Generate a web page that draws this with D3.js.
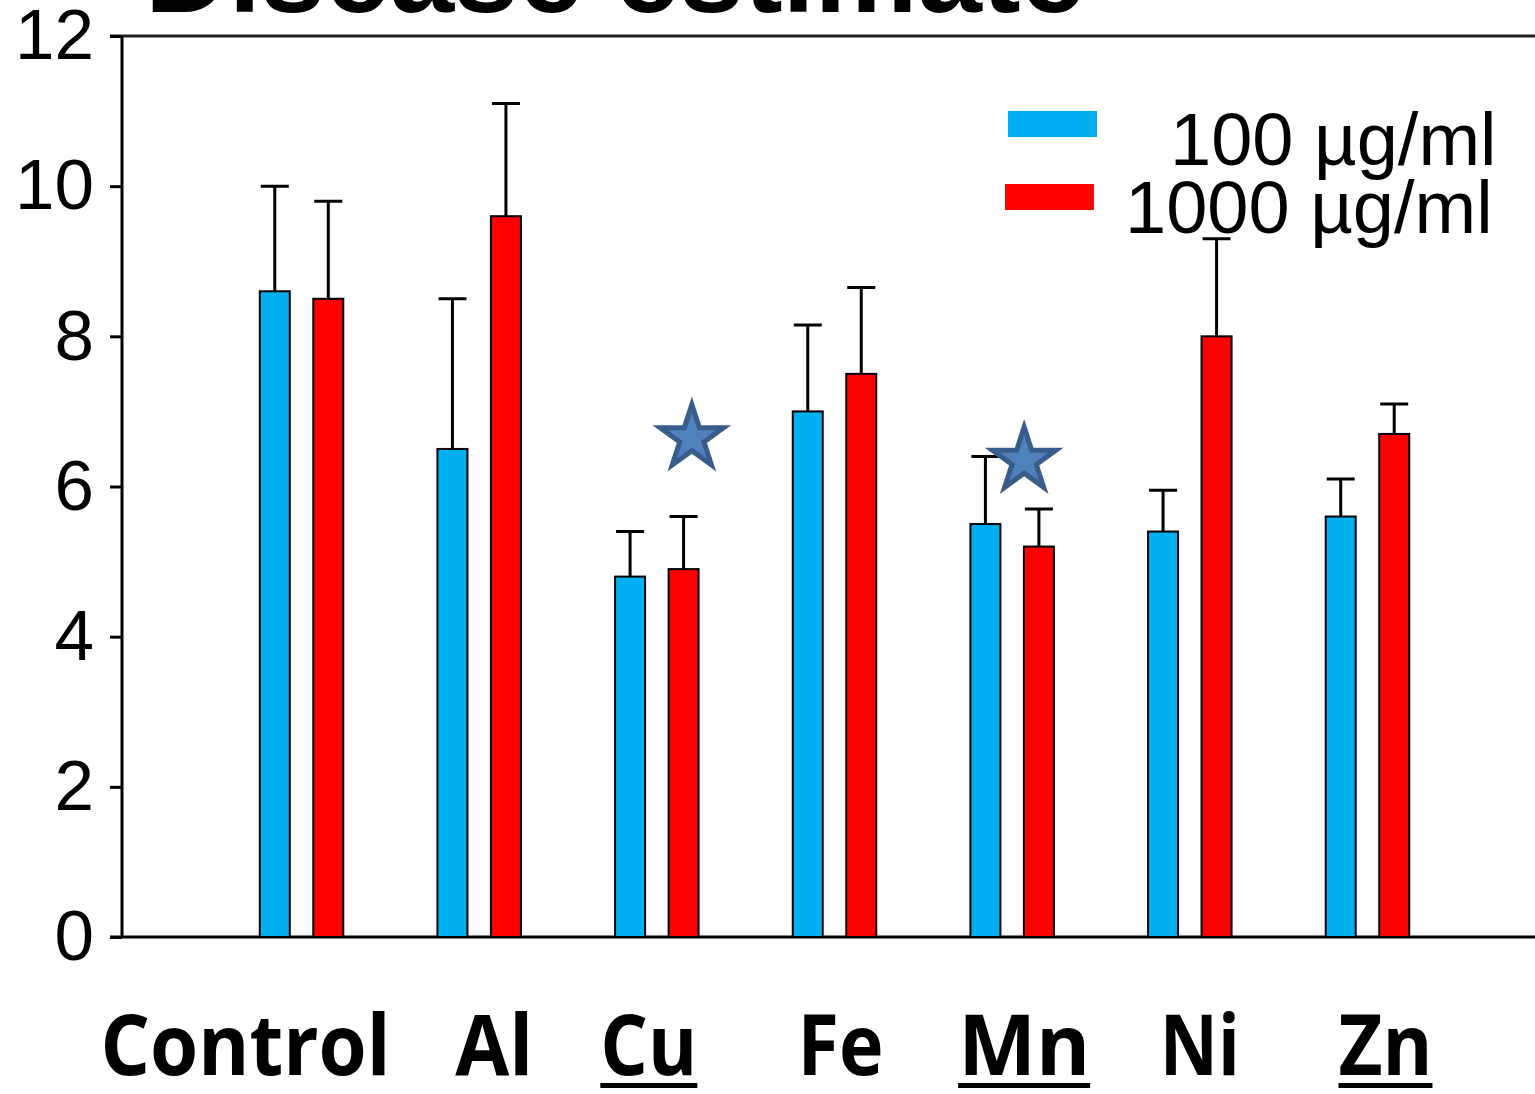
<!DOCTYPE html>
<html>
<head>
<meta charset="utf-8">
<script src="https://cdn.jsdelivr.net/npm/d3@7"></script>
<style>
  body { margin: 0; background: #fff; }
  svg { display: block; }
</style>
</head>
<body>
<div id="chart"></div>
<script>
const categories = ['Control', 'Al', 'Cu', 'Fe', 'Mn', 'Ni', 'Zn'];
const series = ['100 µg/ml', '1000 µg/ml'];
const values100 = [8.6, 6.5, 4.8, 7.0, 5.5, 5.4, 5.6];
const errors100 = [10.0, 8.5, 5.4, 8.15, 6.4, 5.95, 6.1];
const values1000 = [8.5, 9.6, 4.9, 7.5, 5.2, 8.0, 6.7];
const errors1000 = [9.8, 11.1, 5.6, 8.65, 5.7, 9.3, 7.1];
const yTicks = [0, 2, 4, 6, 8, 10, 12];
const underlined = ['Cu', 'Mn', 'Zn'];
const starCats = ['Cu', 'Mn'];
const starValues = [6.7, 6.4];

// layout tweaks (not data)
const labelDx = [-56, 15, -8, 6, 12, 10, 18];
const labelWidth = [290, 78, 97, 86, 132, 80, 94];
const starDx = [35, 12];
const colors = ['#00b0f0', '#ff0000'];

const width = 1535, height = 1094;
const svg = d3.select('#chart').append('svg')
    .attr('width', width)
    .attr('height', height);

const y = d3.scaleLinear().domain([0, 12]).range([937, 36]);
const x0 = d3.scaleBand().domain(categories).range([212.7, 1456.3]);
const x1 = d3.scalePoint().domain(series).range([-26.75, 26.75]);
const barW = 30;
const cx = c => x0(c) + x0.bandwidth() / 2;

// title, mostly cut off at the top
svg.append('text')
    .attr('x', 145)
    .attr('y', 12)
    .attr('font-family', 'Liberation Sans, Arial, sans-serif')
    .attr('font-weight', 'bold')
    .attr('font-size', 116)
    .attr('textLength', 940)
    .attr('lengthAdjust', 'spacingAndGlyphs')
    .text('Disease estimate');

// frame lines
svg.append('line').attr('x1', 110).attr('x2', width).attr('y1', y(12)).attr('y2', y(12))
    .attr('stroke', '#222').attr('stroke-width', 3);
svg.append('line').attr('x1', 110).attr('x2', width).attr('y1', y(0)).attr('y2', y(0))
    .attr('stroke', '#000').attr('stroke-width', 3);

// y axis
const yAxis = svg.append('g')
    .attr('transform', 'translate(122,0)')
    .call(d3.axisLeft(y).tickValues(yTicks).tickSize(12).tickPadding(16).tickFormat(d3.format('d')));
yAxis.select('.domain').attr('stroke-width', 3).attr('d', `M0,${y(12)}V${y(0)}`);
yAxis.selectAll('.tick line').attr('stroke-width', 3);
yAxis.selectAll('.tick text')
    .attr('font-family', 'Liberation Sans, Arial, sans-serif')
    .attr('font-size', 71)
    .attr('fill', '#000');

// bars
const rows = categories.map((c, i) => ({
    cat: c,
    items: [
        { s: series[0], v: values100[i], e: errors100[i], color: colors[0] },
        { s: series[1], v: values1000[i], e: errors1000[i], color: colors[1] }
    ]
}));

const groups = svg.selectAll('.grp')
    .data(rows)
    .enter()
    .append('g')
    .attr('class', 'grp')
    .attr('transform', d => `translate(${cx(d.cat)},0)`);

// error bars
groups.selectAll('.err')
    .data(d => d.items)
    .enter()
    .append('path')
    .attr('class', 'err')
    .attr('d', d => {
        const bx = x1(d.s);
        return `M${bx},${y(d.v)}V${y(d.e)}M${bx - 14},${y(d.e)}H${bx + 14}`;
    })
    .attr('stroke', '#000')
    .attr('stroke-width', 3)
    .attr('fill', 'none');

groups.selectAll('.bar')
    .data(d => d.items)
    .enter()
    .append('rect')
    .attr('class', 'bar')
    .attr('x', d => x1(d.s) - barW / 2)
    .attr('width', barW)
    .attr('y', d => y(d.v))
    .attr('height', d => y(0) - y(d.v))
    .attr('fill', d => d.color)
    .attr('stroke', '#000')
    .attr('stroke-width', 2);

// significance stars
const star = d3.symbol().type(d3.symbolStar).size(1250);
starCats.forEach((c, i) => {
    svg.append('path')
        .attr('d', star())
        .attr('transform', `translate(${cx(c) + starDx[i]},${y(starValues[i]) + 4})`)
        .attr('fill', '#4f81bd')
        .attr('stroke', '#385d8a')
        .attr('stroke-width', 5)
        .attr('stroke-linejoin', 'miter');
});

// category labels
categories.forEach((c, i) => {
    const lx = cx(c) + labelDx[i];
    svg.append('text')
        .attr('x', lx)
        .attr('y', 1075)
        .attr('text-anchor', 'middle')
        .attr('font-family', 'Open Sans, Lato, sans-serif')
        .attr('font-weight', 'bold')
        .attr('font-size', 84)
        .attr('textLength', labelWidth[i])
        .attr('lengthAdjust', 'spacingAndGlyphs')
        .text(c);
    if (underlined.includes(c)) {
        svg.append('rect')
            .attr('x', lx - labelWidth[i] / 2)
            .attr('y', 1083)
            .attr('width', labelWidth[i])
            .attr('height', 5)
            .attr('fill', '#000');
    }
});

// legend
const legend = [
    { rx: 1008, ry: 111, tx: 1170, ty: 165 },
    { rx: 1005, ry: 184, tx: 1125, ty: 233 }
];
legend.forEach((l, i) => {
    svg.append('rect')
        .attr('x', l.rx).attr('y', l.ry)
        .attr('width', 89).attr('height', 26)
        .attr('fill', colors[i]);
    svg.append('text')
        .attr('x', l.tx).attr('y', l.ty)
        .attr('font-family', 'Liberation Sans, Arial, sans-serif')
        .attr('font-size', 74)
        .text(series[i]);
});
</script>
</body>
</html>
